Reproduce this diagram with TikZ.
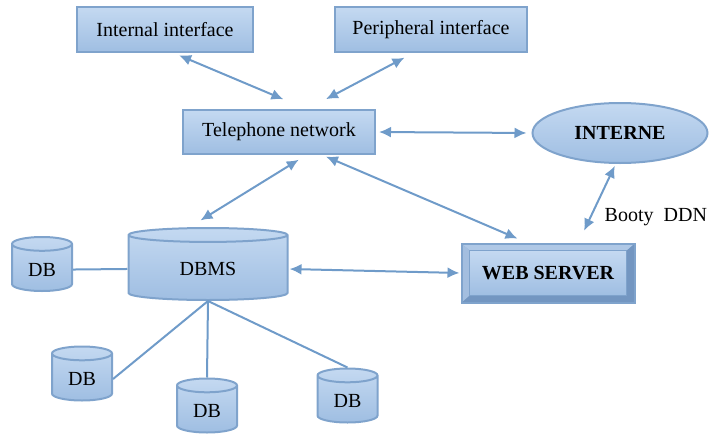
\documentclass[tikz,border=0pt]{standalone}
\usepackage{fontspec}
\setmainfont{Liberation Serif}
\usepackage{tikz}
\usetikzlibrary{arrows.meta, shapes.geometric, calc}
\definecolor{boxTop}{HTML}{C4D9F1}
\definecolor{boxBottom}{HTML}{9FBEE2}
\definecolor{boxLine}{HTML}{7FA3CC}
\definecolor{linkBlue}{HTML}{6F9BC9}
\definecolor{bevelLight}{HTML}{AFC8E6}
\definecolor{bevelDark}{HTML}{7396C1}

\begin{document}
\begin{tikzpicture}[x=1pt, y=-1pt,
    every node/.style={font=\fontsize{20}{23}\selectfont, text=black},
    unit/.style={draw=boxLine, line width=2pt, top color=boxTop, bottom color=boxBottom},
    iface/.style={unit, rectangle, minimum height=45pt},
    store/.style={unit, cylinder, shape border rotate=90, aspect=0.4, anchor=shape center, minimum width=60pt, minimum height=54pt},
    link/.style={{Latex[length=12pt,width=11pt]}-{Latex[length=12pt,width=11pt]}, draw=linkBlue, line width=2pt},
    wire/.style={draw=linkBlue, line width=2pt}]
  \useasboundingbox (0,0) rectangle (718,434);

  % interfaces and network
  \node[iface, minimum width=176pt] (intf) at (165,29.5) {Internal interface};
  \node[iface, minimum width=192pt] (perif) at (431,29.5) {Peripheral interface};
  \node[iface, minimum width=192pt, minimum height=44pt] (tel) at (279,132) {Telephone network};
  \node[unit, ellipse, minimum width=175pt, minimum height=60pt, font=\fontsize{20}{23}\selectfont\bfseries] (inet) at (620,133) {INTERNE};

  % web server with bevelled frame
  \node[draw=boxLine, line width=2pt, fill=bevelDark, minimum width=173pt, minimum height=59pt,
        font=\fontsize{20}{23}\selectfont\bfseries,
        path picture={
          \fill[bevelLight] (path picture bounding box.north west) -- (path picture bounding box.north east)
            -- ($(path picture bounding box.north east)+(-8pt,-7pt)$) -- ($(path picture bounding box.north west)+(8pt,-7pt)$) -- cycle;
          \fill[bevelLight!80!bevelDark] (path picture bounding box.north west) -- ($(path picture bounding box.north west)+(8pt,-7pt)$)
            -- ($(path picture bounding box.south west)+(8pt,7pt)$) -- (path picture bounding box.south west) -- cycle;
          \shade[top color=boxTop, bottom color=boxBottom, draw=boxLine, line width=0.8pt]
            ($(path picture bounding box.north west)+(8pt,-7pt)$) rectangle ($(path picture bounding box.south east)+(-8pt,7pt)$);
        }] (web) at (548,273) {WEB SERVER};

  % databases
  \node[store, minimum width=159pt, minimum height=72pt, aspect=0.22] (dbms) at (208,264) {DBMS};
  \node[store] (db1) at (42,264) {DB};
  \node[store] (db2) at (82,373.5) {DB};
  \node[store] (db3) at (207,405.5) {DB};
  \node[store] (db4) at (347.5,395.5) {DB};

  % connectors
  \draw[link, shorten <=6pt, shorten >=25pt] (intf.-70) -- (tel.40);
  \draw[link, shorten <=10pt, shorten >=21pt] (perif.-127) -- (tel.39);
  \draw[link, shorten <=3pt, shorten >=5pt] (tel.east) -- (inet.west);
  \draw[link, shorten <=9pt, shorten >=13pt] (tel.-40) -- (dbms.114);
  \draw[link, shorten <=4pt, shorten >=10pt] (tel.-28) -- (web.125);
  \draw[link, shorten <=1pt, shorten >=1pt] (dbms.east) -- (web.west);
  \draw[link, shorten <=2pt, shorten >=13pt] (inet.-98) -- (web.45)
    node[pos=0.68, right=10pt, anchor=west] {Booty~~DDN};

  \draw[wire] (db1.east) -- (dbms.west);
  \draw[wire] (dbms.south) -- (db2.east);
  \draw[wire] (dbms.south) -- (db3.north);
  \draw[wire] (dbms.south) -- (db4.north);
\end{tikzpicture}
\end{document}
